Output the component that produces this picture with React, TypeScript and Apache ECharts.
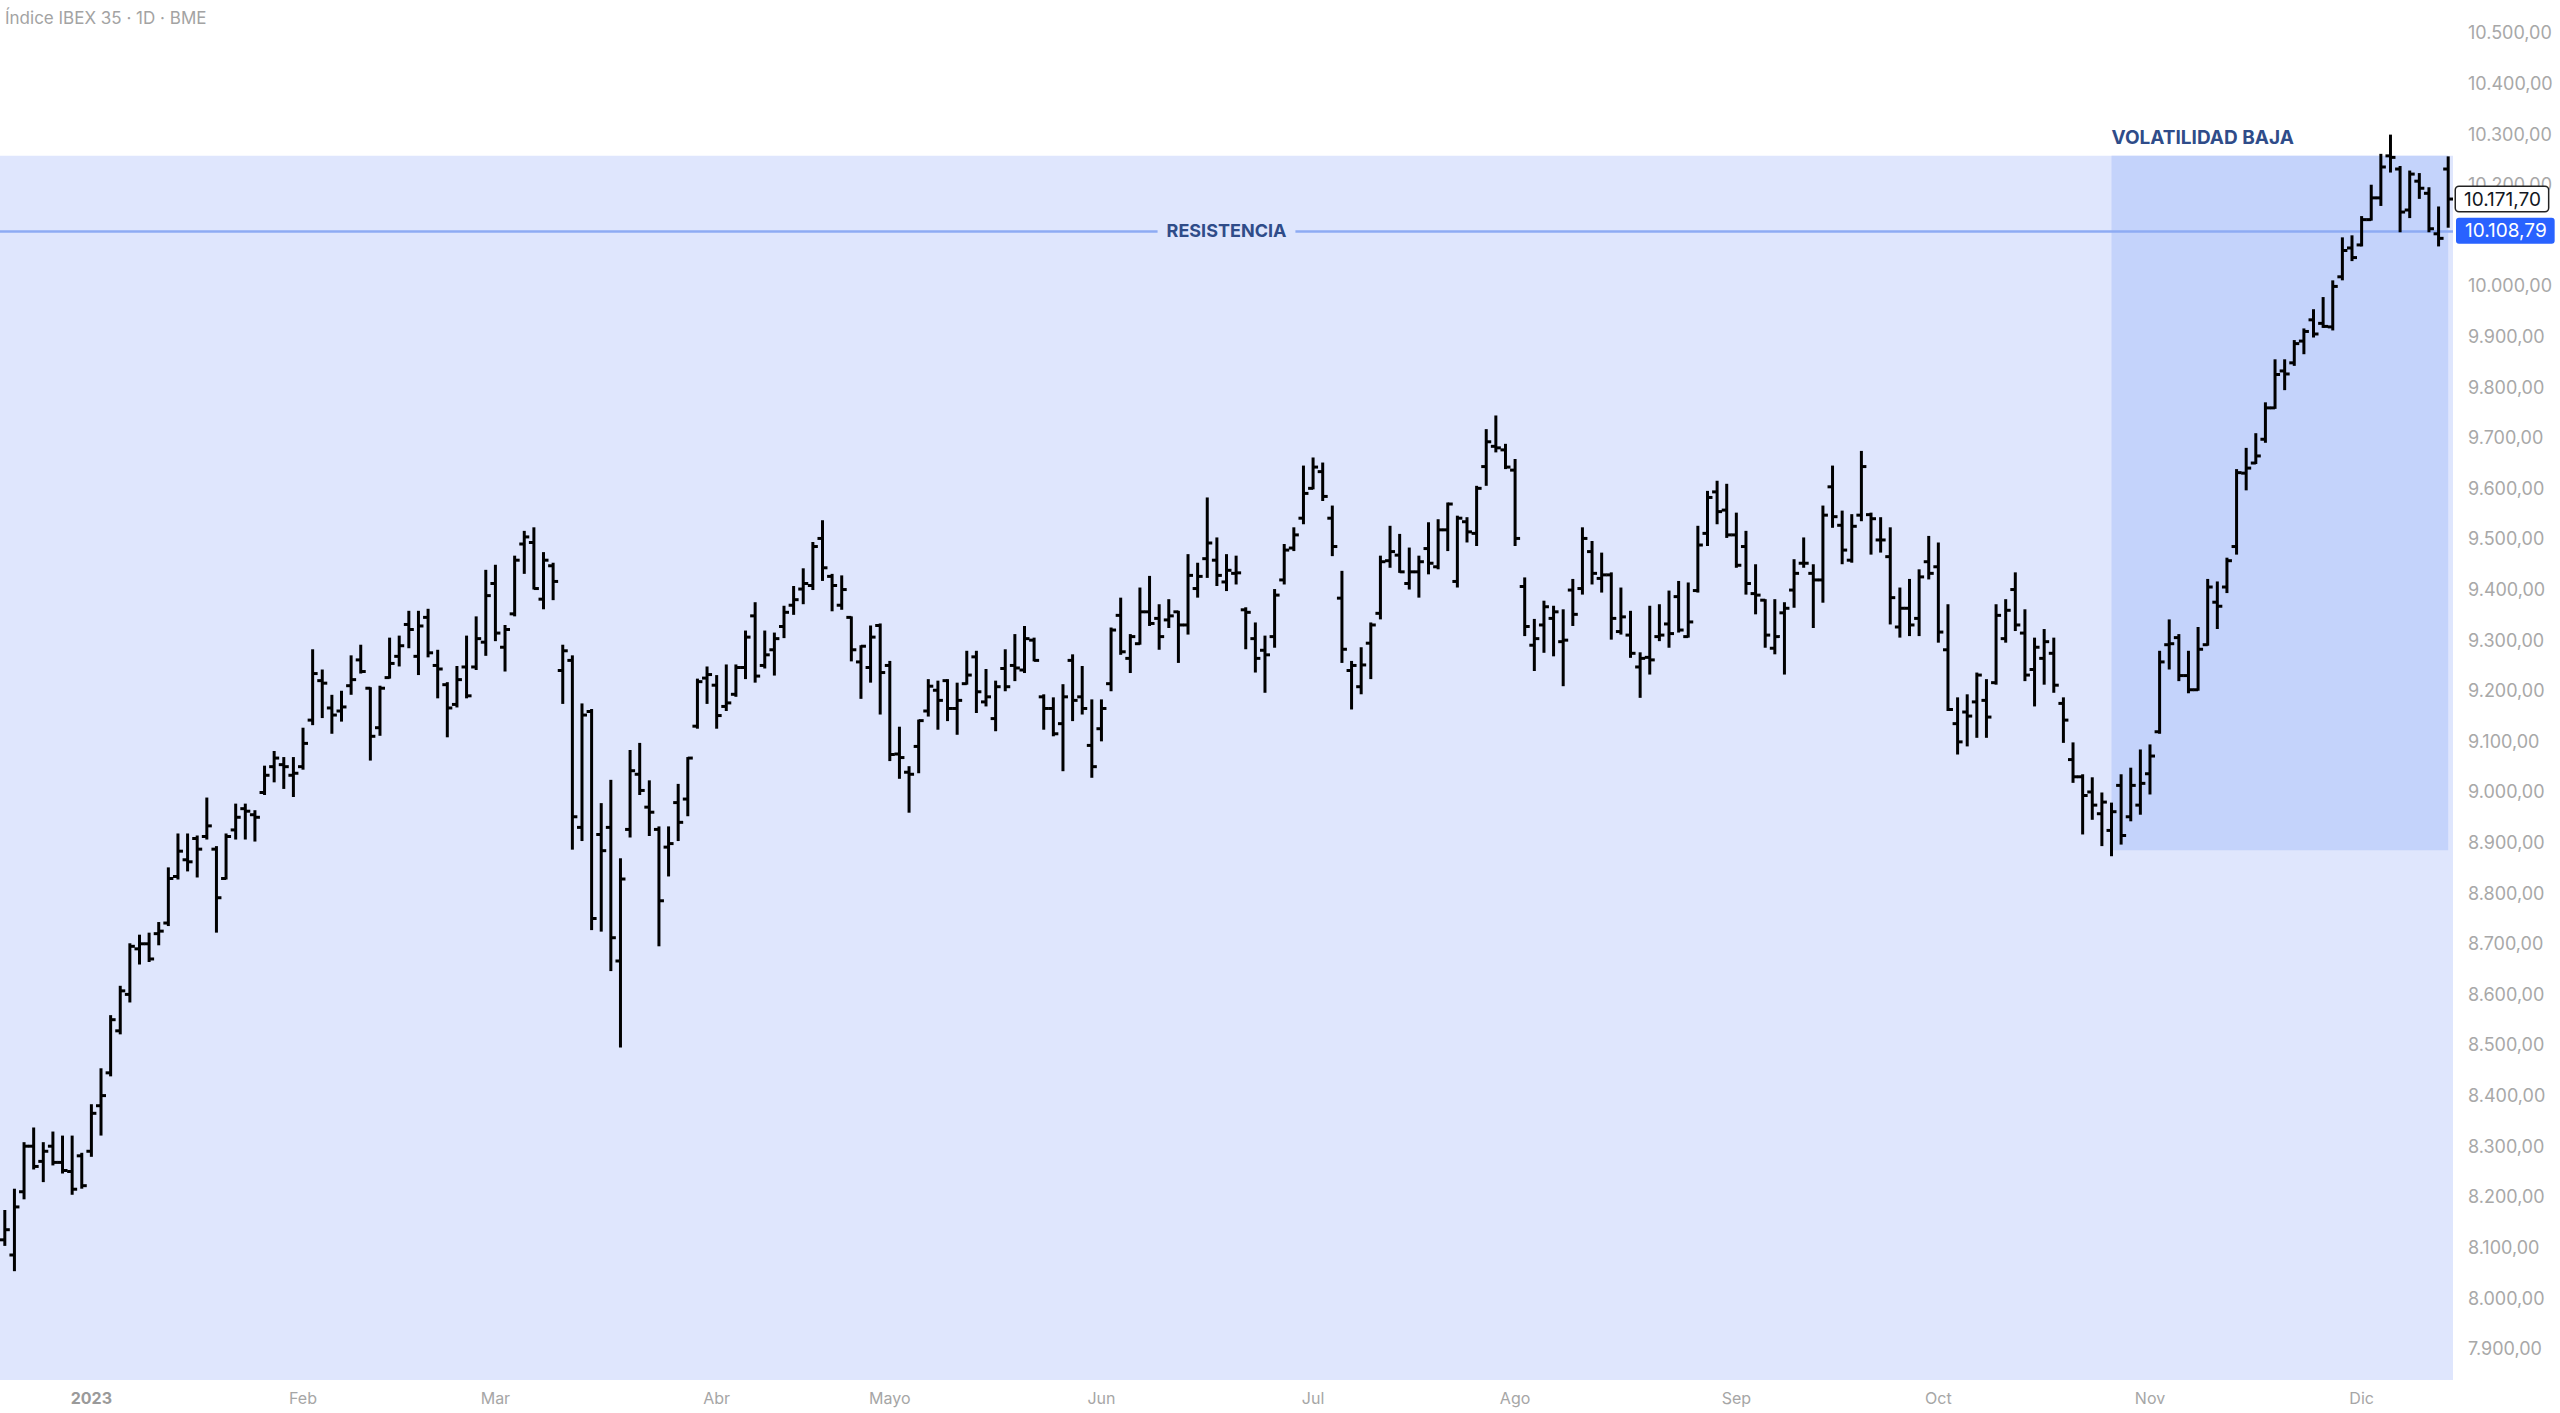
import React, { useEffect, useRef } from 'react';
import * as echarts from 'echarts';

const TITLE = 'Índice IBEX 35 · 1D · BME';
const FIRST_DAY = '2022-12-19';
const MARKET_HOLIDAYS = ['2022-12-26', '2023-04-07', '2023-04-10', '2023-05-01'];
const MONTH_LABELS = ['2023', 'Feb', 'Mar', 'Abr', 'Mayo', 'Jun', 'Jul', 'Ago', 'Sep', 'Oct', 'Nov', 'Dic'];
// 10.100,00 is hidden behind the resistance price tag in the reference
const Y_TICKS = [7900, 8000, 8100, 8200, 8300, 8400, 8500, 8600, 8700, 8800, 8900, 9000, 9100, 9200, 9300, 9400, 9500, 9600, 9700, 9800, 9900, 10000, 10200, 10300, 10400, 10500];
const Y_MIN = 7838;
const Y_MAX = 10565;
const ZONE_TOP = 10257;
const LOW_VOL_BOTTOM = 8885;
const LOW_VOL_START = 219;
const RESISTANCE = 10108.79;

const OPEN = [
  8115, 8085, 8210, 8300, 8270, 8300, 8268, 8250, 8281, 8290,
  8380, 8445, 8528, 8600, 8690, 8700, 8720, 8741, 8833, 8866,
  8908, 8912, 8887, 8829, 8925, 8967, 8955, 8999, 9050, 9054,
  9033, 9050, 9142, 9220, 9166, 9160, 9210, 9261, 9205, 9127,
  9226, 9268, 9331, 9268, 9345, 9250, 9212, 9173, 9247, 9247,
  9296, 9412, 9286, 9352, 9490, 9493, 9381, 9447, 9240, 9260,
  8930, 9159, 8916, 8930, 8666, 8926, 9035, 8970, 8926, 8891,
  8979, 8986, 9130, 9225, 9211, 9169, 9193, 9246, 9348, 9250,
  9281, 9327, 9369, 9401, 9408, 9501, 9426, 9369, 9345, 9257,
  9246, 9329, 9250, 9075, 9039, 9090, 9160, 9201, 9220, 9165,
  9214, 9267, 9178, 9145, 9244, 9250, 9241, 9300, 9188, 9165,
  9135, 9260, 9188, 9092, 9125, 9214, 9349, 9264, 9293, 9356,
  9343, 9340, 9356, 9330, 9402, 9461, 9458, 9415, 9432, 9360,
  9303, 9280, 9307, 9419, 9482, 9541, 9600, 9633, 9541, 9383,
  9240, 9208, 9294, 9353, 9457, 9468, 9412, 9435, 9481, 9445,
  9518, 9416, 9534, 9511, 9643, 9683, 9676, 9636, 9406, 9290,
  9330, 9343, 9297, 9399, 9402, 9475, 9422, 9429, 9317, 9310,
  9247, 9266, 9307, 9332, 9386, 9307, 9398, 9511, 9593, 9557,
  9508, 9485, 9392, 9379, 9284, 9354, 9399, 9452, 9432, 9419,
  9603, 9527, 9458, 9547, 9548, 9498, 9465, 9326, 9363, 9343,
  9455, 9445, 9281, 9135, 9158, 9178, 9181, 9216, 9303, 9400,
  9314, 9242, 9264, 9274, 9175, 9064, 9030, 9000, 8957, 8924,
  9013, 8951, 8974, 9036, 9119, 9291, 9305, 9230, 9202, 9291,
  9375, 9405, 9485, 9630, 9650, 9697, 9759, 9832, 9848, 9891,
  9933, 9926, 9919, 10018, 10075, 10081, 10131, 10174, 10257, 10231,
  10150, 10207, 10183, 10103, 10231,
];

const HIGH = [
  8172, 8214, 8306, 8335, 8306, 8327, 8319, 8319, 8285, 8381,
  8452, 8557, 8615, 8699, 8716, 8720, 8741, 8849, 8916, 8916,
  8912, 8987, 8891, 8916, 8975, 8975, 8962, 9050, 9079, 9067,
  9067, 9125, 9280, 9240, 9190, 9198, 9268, 9289, 9205, 9208,
  9303, 9307, 9356, 9356, 9360, 9279, 9215, 9247, 9307, 9345,
  9437, 9447, 9328, 9465, 9514, 9521, 9472, 9451, 9289, 9268,
  9173, 9162, 8976, 9022, 8867, 9081, 9095, 9021, 8930, 8930,
  9014, 9067, 9222, 9246, 9229, 9250, 9250, 9317, 9373, 9317,
  9313, 9366, 9405, 9440, 9492, 9535, 9429, 9426, 9345, 9288,
  9327, 9331, 9257, 9127, 9049, 9141, 9221, 9218, 9221, 9214,
  9277, 9277, 9241, 9218, 9280, 9310, 9326, 9303, 9191, 9185,
  9211, 9270, 9247, 9181, 9181, 9323, 9382, 9310, 9402, 9425,
  9369, 9379, 9356, 9468, 9451, 9580, 9501, 9468, 9465, 9363,
  9333, 9307, 9399, 9488, 9521, 9643, 9659, 9649, 9564, 9435,
  9257, 9284, 9333, 9465, 9524, 9508, 9481, 9465, 9531, 9537,
  9570, 9544, 9541, 9603, 9715, 9742, 9686, 9656, 9422, 9340,
  9376, 9366, 9359, 9419, 9521, 9494, 9471, 9432, 9402, 9356,
  9274, 9366, 9369, 9396, 9415, 9412, 9524, 9593, 9613, 9607,
  9550, 9514, 9448, 9379, 9379, 9373, 9458, 9501, 9448, 9564,
  9643, 9554, 9547, 9672, 9550, 9541, 9521, 9402, 9419, 9438,
  9504, 9491, 9369, 9185, 9191, 9234, 9221, 9369, 9379, 9432,
  9359, 9303, 9320, 9303, 9185, 9096, 9033, 9027, 8997, 8977,
  9033, 9046, 9082, 9092, 9277, 9339, 9310, 9277, 9324, 9419,
  9414, 9461, 9636, 9678, 9707, 9768, 9853, 9853, 9891, 9914,
  9952, 9976, 10009, 10094, 10098, 10136, 10198, 10259, 10297, 10235,
  10226, 10221, 10193, 10155, 10254,
];

const LOW = [
  8105, 8055, 8197, 8256, 8231, 8264, 8248, 8206, 8218, 8281,
  8323, 8440, 8523, 8586, 8661, 8666, 8699, 8737, 8829, 8845,
  8833, 8908, 8724, 8829, 8908, 8908, 8904, 8996, 9021, 9008,
  8992, 9046, 9134, 9148, 9117, 9141, 9194, 9236, 9064, 9113,
  9226, 9250, 9286, 9233, 9268, 9187, 9110, 9169, 9187, 9243,
  9271, 9300, 9240, 9349, 9433, 9402, 9363, 9381, 9176, 8888,
  8905, 8729, 8726, 8648, 8497, 8912, 8996, 8915, 8697, 8835,
  8905, 8954, 9127, 9176, 9127, 9162, 9190, 9225, 9218, 9246,
  9232, 9306, 9352, 9373, 9401, 9419, 9359, 9362, 9260, 9186,
  9218, 9155, 9063, 9028, 8961, 9039, 9151, 9125, 9142, 9115,
  9214, 9158, 9171, 9122, 9201, 9221, 9237, 9260, 9125, 9112,
  9043, 9142, 9155, 9030, 9102, 9201, 9273, 9237, 9293, 9330,
  9283, 9326, 9257, 9313, 9386, 9425, 9409, 9399, 9412, 9284,
  9238, 9198, 9287, 9412, 9478, 9531, 9600, 9577, 9468, 9257,
  9165, 9195, 9225, 9343, 9445, 9435, 9402, 9386, 9432, 9442,
  9478, 9406, 9495, 9488, 9607, 9673, 9640, 9488, 9310, 9241,
  9277, 9270, 9211, 9330, 9392, 9412, 9396, 9303, 9313, 9267,
  9188, 9234, 9300, 9287, 9317, 9307, 9396, 9488, 9531, 9504,
  9445, 9392, 9353, 9287, 9274, 9234, 9366, 9445, 9326, 9376,
  9524, 9452, 9455, 9537, 9471, 9475, 9333, 9307, 9310, 9310,
  9422, 9297, 9162, 9076, 9092, 9109, 9109, 9214, 9297, 9320,
  9221, 9171, 9214, 9198, 9099, 9020, 8918, 8947, 8895, 8875,
  8898, 8944, 8957, 8997, 9117, 9244, 9221, 9197, 9202, 9291,
  9324, 9395, 9471, 9598, 9650, 9692, 9759, 9796, 9844, 9867,
  9900, 9919, 9914, 10013, 10051, 10080, 10131, 10160, 10226, 10108,
  10136, 10174, 10108, 10080, 10117,
];

const CLOSE = [
  8135, 8180, 8300, 8260, 8290, 8268, 8252, 8215, 8222, 8365,
  8400, 8550, 8607, 8695, 8700, 8670, 8725, 8829, 8883, 8862,
  8887, 8933, 8791, 8912, 8950, 8962, 8950, 9033, 9067, 9050,
  9037, 9096, 9234, 9215, 9152, 9168, 9222, 9238, 9110, 9205,
  9254, 9289, 9321, 9328, 9275, 9243, 9166, 9222, 9190, 9303,
  9388, 9314, 9321, 9458, 9504, 9402, 9458, 9416, 9279, 8951,
  9152, 8750, 8884, 8712, 8828, 9042, 9003, 8960, 8785, 8898,
  8940, 9067, 9218, 9232, 9151, 9176, 9246, 9306, 9229, 9271,
  9303, 9355, 9380, 9412, 9485, 9443, 9408, 9400, 9281, 9288,
  9306, 9236, 9074, 9068, 9035, 9141, 9209, 9181, 9165, 9181,
  9231, 9198, 9188, 9208, 9208, 9245, 9303, 9260, 9165, 9115,
  9188, 9181, 9165, 9050, 9165, 9320, 9277, 9307, 9356, 9333,
  9307, 9348, 9330, 9428, 9426, 9492, 9428, 9438, 9433, 9355,
  9264, 9271, 9389, 9478, 9508, 9590, 9642, 9584, 9485, 9282,
  9250, 9251, 9330, 9455, 9475, 9435, 9435, 9455, 9452, 9518,
  9569, 9541, 9514, 9600, 9692, 9680, 9642, 9501, 9327, 9303,
  9366, 9356, 9300, 9351, 9501, 9432, 9429, 9343, 9346, 9274,
  9264, 9261, 9310, 9313, 9320, 9336, 9488, 9582, 9554, 9508,
  9448, 9412, 9389, 9310, 9307, 9363, 9432, 9452, 9419, 9547,
  9544, 9478, 9525, 9643, 9540, 9498, 9384, 9363, 9330, 9425,
  9432, 9316, 9163, 9099, 9150, 9231, 9148, 9349, 9359, 9330,
  9231, 9286, 9297, 9211, 9142, 9030, 8993, 8974, 8980, 8961,
  8914, 9013, 9017, 9071, 9257, 9293, 9230, 9202, 9282, 9405,
  9367, 9457, 9631, 9640, 9664, 9759, 9825, 9826, 9886, 9910,
  9905, 9920, 9999, 10070, 10056, 10131, 10174, 10235, 10254, 10146,
  10221, 10193, 10113, 10094, 10171.7,
];

function buildTradingDays(count: number): string[] {
  const out: string[] = [];
  const d = new Date(FIRST_DAY + 'T00:00:00Z');
  while (out.length < count) {
    const dow = d.getUTCDay();
    const iso = d.toISOString().slice(0, 10);
    if (dow !== 0 && dow !== 6 && !MARKET_HOLIDAYS.includes(iso)) out.push(iso);
    d.setUTCDate(d.getUTCDate() + 1);
  }
  return out;
}

function fmtPrice(v: number): string {
  const [i, d] = v.toFixed(2).split('.');
  return i.replace(/\B(?=(\d{3})+(?!\d))/g, '.') + ',' + d;
}

export default function App() {
  const ref = useRef<HTMLDivElement>(null);

  useEffect(() => {
    if (!ref.current) return;
    const chart = echarts.init(ref.current, undefined, { renderer: 'svg' });

    const dates = buildTradingDays(OPEN.length);
    const monthStart = dates.map((d, i) => i > 0 && d.slice(5, 7) !== dates[i - 1].slice(5, 7));
    const data = OPEN.map((o, i) => [i, o, HIGH[i], LOW[i], CLOSE[i]]);
    const lastPrice = CLOSE[CLOSE.length - 1];
    const barStroke = { stroke: '#000000', lineWidth: 3 };
    const tick = 5;

    const renderItem = (params: any, api: any) => {
      const x = api.value(0);
      const o = api.coord([x, api.value(1)]);
      const h = api.coord([x, api.value(2)]);
      const l = api.coord([x, api.value(3)]);
      const c = api.coord([x, api.value(4)]);
      return {
        type: 'group',
        children: [
          { type: 'line', shape: { x1: h[0], y1: h[1] - 1, x2: l[0], y2: l[1] + 1 }, style: barStroke },
          { type: 'line', shape: { x1: o[0] - tick, y1: o[1], x2: o[0], y2: o[1] }, style: barStroke },
          { type: 'line', shape: { x1: c[0], y1: c[1], x2: c[0] + tick, y2: c[1] }, style: barStroke },
        ],
      };
    };

    const hiddenLine = { color: 'rgba(0,0,0,0)', width: 0, type: 'solid' };

    const option: any = {
      animation: false,
      backgroundColor: '#ffffff',
      textStyle: { fontFamily: 'Inter, "Noto Sans", sans-serif' },
      title: {
        text: TITLE,
        left: 5,
        top: 9,
        padding: 0,
        textStyle: { fontSize: 17, fontWeight: 'normal', color: '#a3a3a3', fontFamily: 'Inter' },
      },
      grid: { left: 0, right: 107, top: 0, bottom: 33, containLabel: false, outerBoundsMode: 'none' },
      xAxis: {
        type: 'category',
        data: dates,
        boundaryGap: true,
        axisLine: { show: false },
        axisTick: { show: false },
        splitLine: { show: false },
        axisLabel: {
          interval: (i: number) => monthStart[i],
          formatter: (v: string) => {
            const m = Number(v.slice(5, 7)) - 1;
            return m === 0 ? '{y|' + MONTH_LABELS[0] + '}' : MONTH_LABELS[m];
          },
          fontSize: 16,
          color: '#a6a6a6',
          margin: 10,
          rich: { y: { fontSize: 16, fontWeight: 'bold', color: '#9a9a9a' } },
        },
      },
      yAxis: {
        type: 'value',
        position: 'right',
        min: Y_MIN,
        max: Y_MAX,
        axisLine: { show: false },
        axisTick: { show: false },
        splitLine: { show: false },
        axisLabel: {
          customValues: Y_TICKS,
          formatter: (v: number) => fmtPrice(v),
          fontSize: 18,
          color: '#a8a8a8',
          margin: 15,
        },
      },
      series: [
        {
          type: 'custom',
          renderItem,
          data,
          encode: { x: 0, y: [1, 2, 3, 4] },
          clip: true,
          z: 2,
          markArea: {
            silent: true,
            z: 1,
            emphasis: { disabled: true },
            data: [
              [
                { yAxis: ZONE_TOP, itemStyle: { color: '#dfe6fd', opacity: 1 }, label: { show: false } },
                { yAxis: Y_MIN },
              ],
              [
                {
                  xAxis: dates[LOW_VOL_START],
                  yAxis: ZONE_TOP,
                  itemStyle: { color: '#c4d3fb', opacity: 1 },
                  label: {
                    show: true,
                    formatter: 'VOLATILIDAD BAJA',
                    position: [0, -28],
                    color: '#2f4c89',
                    fontWeight: 'bold',
                    fontSize: 19,
                    fontFamily: 'Inter',
                  },
                },
                { xAxis: dates[dates.length - 1], yAxis: LOW_VOL_BOTTOM },
              ],
            ],
          },
          markLine: {
            silent: true,
            z: 1.5,
            symbol: ['none', 'none'],
            emphasis: { disabled: true },
            data: [
              {
                yAxis: RESISTANCE,
                lineStyle: { color: '#8eabf3', width: 2.5, type: 'solid', opacity: 1 },
                label: {
                  show: true,
                  position: 'middle',
                  distance: -12,
                  formatter: 'RESISTENCIA',
                  color: '#2f4c89',
                  fontWeight: 'bold',
                  fontSize: 18,
                  fontFamily: 'Inter',
                  backgroundColor: '#dfe6fd',
                  padding: [2, 9],
                  lineHeight: 20,
                },
              },
              {
                yAxis: RESISTANCE,
                lineStyle: hiddenLine,
                label: {
                  show: true,
                  position: 'end',
                  distance: 3,
                  formatter: fmtPrice(RESISTANCE),
                  color: '#ffffff',
                  fontSize: 19,
                  fontFamily: 'Inter',
                  backgroundColor: '#2962ff',
                  borderRadius: 3,
                  padding: [4, 8, 3, 9],
                },
              },
              {
                yAxis: lastPrice,
                lineStyle: hiddenLine,
                label: {
                  show: true,
                  position: 'end',
                  distance: 3,
                  formatter: fmtPrice(lastPrice),
                  color: '#131722',
                  fontSize: 19,
                  fontFamily: 'Inter',
                  backgroundColor: '#ffffff',
                  borderColor: '#222222',
                  borderWidth: 1.5,
                  borderRadius: 3,
                  padding: [3, 7, 2, 8],
                },
              },
            ],
          },
        },
      ],
    };

    chart.setOption(option);
    return () => chart.dispose();
  }, []);

  return (
    <div
      ref={ref}
      style={{ position: 'fixed', left: 0, top: 0, width: 2560, height: 1413, background: '#ffffff' }}
    />
  );
}
